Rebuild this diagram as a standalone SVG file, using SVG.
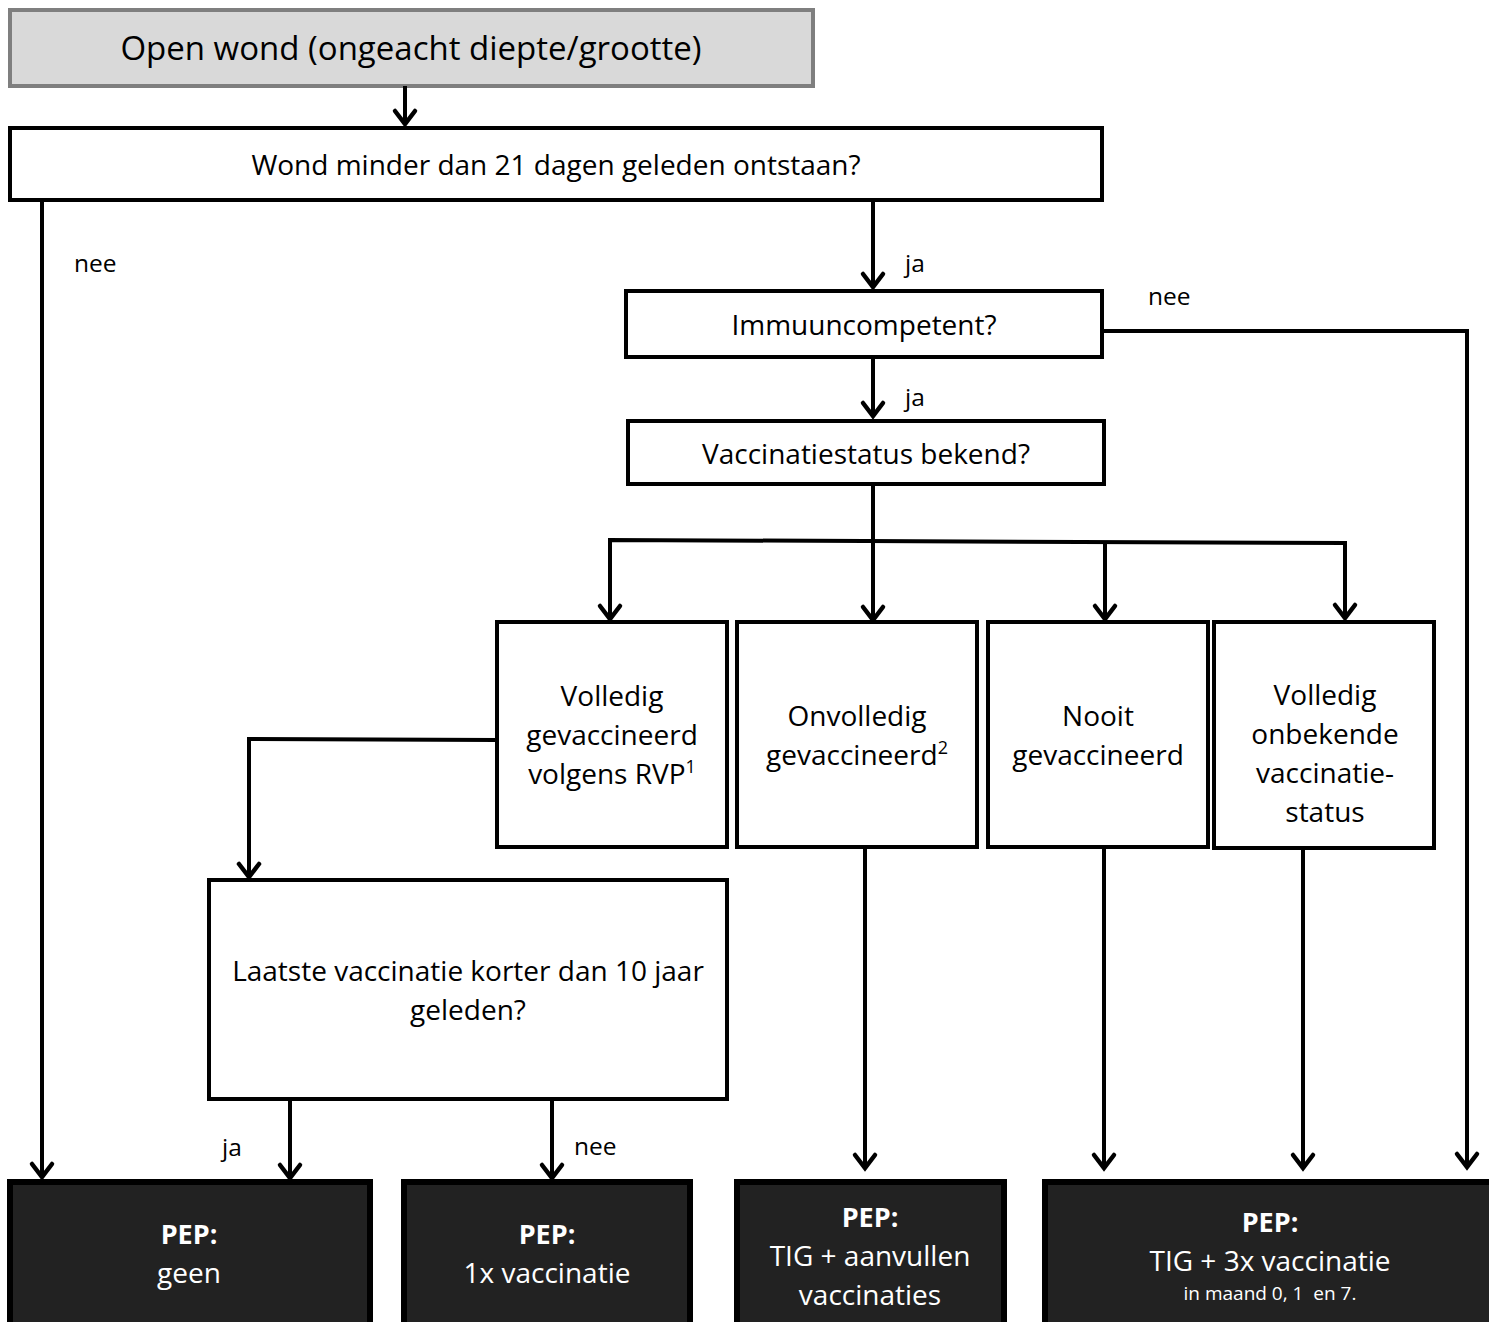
<svg xmlns="http://www.w3.org/2000/svg" width="1489" height="1322" viewBox="0 0 1489 1322">
<style>
text{font-family:"Open Sans","Liberation Sans",sans-serif;fill:#000;text-anchor:middle}
.t30{font-size:33px}
.t26{font-size:28px}
.t27{font-size:28px}
.lbl{font-size:24.5px;text-anchor:start}
.box{fill:#fff;stroke:#000;stroke-width:4}
.dark{fill:#222;stroke:#000;stroke-width:6}
.dt{fill:#fff;font-size:28px}
.b{font-weight:bold;font-size:27px}
.sup{font-size:18px}
.small{font-size:19px;white-space:pre}
.c{fill:none;stroke:#000;stroke-width:4;stroke-linejoin:miter}
</style>
<defs>
<marker id="ah" markerUnits="userSpaceOnUse" markerWidth="40" markerHeight="40" refX="0" refY="0" orient="auto" overflow="visible">
<path d="M-13,-10 L0,0 L-13,10" fill="none" stroke="#000" stroke-width="4.5" stroke-linecap="round" stroke-linejoin="miter"/>
</marker>
</defs>
<g id="n-open">
<rect x="10" y="10" width="803" height="76" fill="#d9d9d9" stroke="#7f7f7f" stroke-width="4"/>
<text class="t30" x="411" y="60">Open wond (ongeacht diepte/grootte)</text>
</g>
<g id="n-21dagen">
<rect class="box" x="10" y="128" width="1092" height="72"/>
<text class="t26" x="556" y="175">Wond minder dan 21 dagen geleden ontstaan?</text>
</g>
<g id="n-immuun">
<rect class="box" x="626" y="291" width="476" height="66"/>
<text class="t26" x="864" y="335">Immuuncompetent?</text>
</g>
<g id="n-status">
<rect class="box" x="628" y="421" width="476" height="63"/>
<text class="t26" x="866" y="464">Vaccinatiestatus bekend?</text>
</g>
<g id="n-volledig">
<rect class="box" x="497" y="622" width="230" height="225"/>
<text class="t27" x="612" y="706">Volledig</text>
<text class="t27" x="612" y="745">gevaccineerd</text>
<text class="t27" x="612" y="784">volgens RVP<tspan class="sup" dy="-11">1</tspan></text>
</g>
<g id="n-onvolledig">
<rect class="box" x="737" y="622" width="240" height="225"/>
<text class="t27" x="857" y="726">Onvolledig</text>
<text class="t27" x="857" y="765">gevaccineerd<tspan class="sup" dy="-11">2</tspan></text>
</g>
<g id="n-nooit">
<rect class="box" x="988" y="622" width="220" height="225"/>
<text class="t27" x="1098" y="726">Nooit</text>
<text class="t27" x="1098" y="765">gevaccineerd</text>
</g>
<g id="n-onbekend">
<rect class="box" x="1214" y="622" width="220" height="226"/>
<text class="t27" x="1325" y="705">Volledig</text>
<text class="t27" x="1325" y="744">onbekende</text>
<text class="t27" x="1325" y="783">vaccinatie-</text>
<text class="t27" x="1325" y="822">status</text>
</g>
<g id="n-laatste">
<rect class="box" x="209" y="880" width="518" height="219"/>
<text class="t26" x="468" y="981">Laatste vaccinatie korter dan 10 jaar</text>
<text class="t26" x="468" y="1020">geleden?</text>
</g>
<g id="n-geen">
<rect class="dark" x="10" y="1182" width="360" height="150"/>
<text class="dt b" x="189" y="1244">PEP:</text>
<text class="dt" x="189" y="1283">geen</text>
</g>
<g id="n-1x">
<rect class="dark" x="404" y="1182" width="286" height="150"/>
<text class="dt b" x="547" y="1244">PEP:</text>
<text class="dt" x="547" y="1283">1x vaccinatie</text>
</g>
<g id="n-aanvullen">
<rect class="dark" x="737" y="1182" width="267" height="150"/>
<text class="dt b" x="870" y="1227">PEP:</text>
<text class="dt" x="870" y="1266">TIG + aanvullen</text>
<text class="dt" x="870" y="1305">vaccinaties</text>
</g>
<g id="n-3x">
<rect class="dark" x="1045" y="1182" width="454" height="150"/>
<text class="dt b" x="1270" y="1232">PEP:</text>
<text class="dt" x="1270" y="1271">TIG + 3x vaccinatie</text>
<text class="dt small" x="1270" y="1300" xml:space="preserve">in maand 0, 1  en 7.</text>
</g>
<g id="connectors">
<path class="c" d="M405,86 V124" marker-end="url(#ah)"/>
<path class="c" d="M42,200 V1177" marker-end="url(#ah)"/>
<path class="c" d="M873,200 V287" marker-end="url(#ah)"/>
<path class="c" d="M1102,331 H1467 V1167" marker-end="url(#ah)"/>
<path class="c" d="M873,357 V416" marker-end="url(#ah)"/>
<path class="c" d="M873,484 V620" marker-end="url(#ah)"/>
<path class="c" d="M610,620 V540 L1345,543 V618" marker-end="url(#ah)"/>
<path class="c" d="M610,540 V619" marker-end="url(#ah)"/>
<path class="c" d="M1105,543 V619" marker-end="url(#ah)"/>
<path class="c" d="M497,740 L249,739 V877" marker-end="url(#ah)"/>
<path class="c" d="M290,1099 V1178" marker-end="url(#ah)"/>
<path class="c" d="M552,1099 V1178" marker-end="url(#ah)"/>
<path class="c" d="M865,847 V1168" marker-end="url(#ah)"/>
<path class="c" d="M1104,847 V1168" marker-end="url(#ah)"/>
<path class="c" d="M1303,847 V1168" marker-end="url(#ah)"/>
<text class="lbl" x="74" y="272">nee</text>
<text class="lbl" x="905" y="272">ja</text>
<text class="lbl" x="1148" y="305">nee</text>
<text class="lbl" x="905" y="406">ja</text>
<text class="lbl" x="222" y="1156">ja</text>
<text class="lbl" x="574" y="1155">nee</text>
</g>
</svg>
